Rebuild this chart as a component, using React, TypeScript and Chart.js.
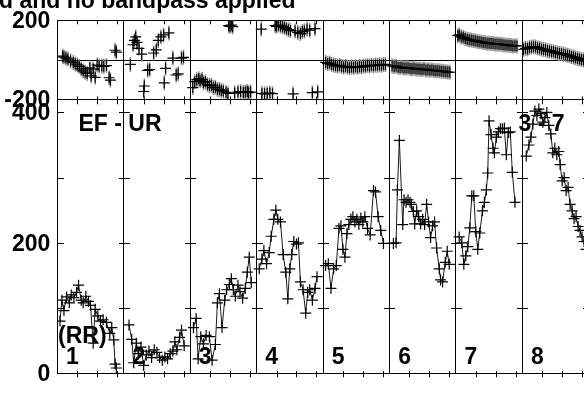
import React, { useEffect, useRef } from 'react';
import { Chart, registerables } from 'chart.js';

Chart.register(...registerables);

// ---- text ----
const TITLE = 'd and no bandpass applied';
const BASELINE_LABEL = 'EF - UR';
const ANTENNA_LABEL = '3 - 7';
const STOKES_LABEL = '(RR)';
const PANEL_LABELS = ['1', '2', '3', '4', '5', '6', '7', '8'];

// ---- axis ticks ----
const PHASE_TICKS = [-200, 0, 200];
const PHASE_TICK_LABELS = ['-200', '', '200'];
const AMP_TICKS = [0, 200, 400];
const AMP_TICK_LABELS = ['0', '200', '400'];
const AMP_MINOR = [100, 200, 300, 400];
const TIME_TICKS = [0.3, 0.6, 0.9];

// ---- amplitude per panel: [time within panel (0..1), amplitude] ----
const amp1 = [[0.04,80],[0.07,112],[0.1,96],[0.14,117],[0.18,108],[0.21,120],[0.25,116],[0.29,124],[0.32,135],[0.36,112],[0.39,108],[0.43,118],[0.47,110],[0.5,104],[0.54,46],[0.57,98],[0.61,88],[0.65,80],[0.69,82],[0.74,78],[0.79,61],[0.82,70],[0.85,51],[0.87,14],[0.89,8]];
const amp2 = [[0.08,74],[0.12,52],[0.15,16],[0.19,46],[0.22,30],[0.26,40],[0.3,12],[0.34,28],[0.38,34],[0.42,24],[0.46,36],[0.5,32],[0.54,24],[0.58,20],[0.62,25],[0.66,22],[0.7,30],[0.74,34],[0.77,48],[0.8,36],[0.84,55],[0.87,66],[0.91,42]];
const amp3 = [[0.05,70],[0.09,84],[0.12,22],[0.16,56],[0.2,45],[0.24,58],[0.29,56],[0.33,20],[0.38,44],[0.41,108],[0.44,122],[0.48,70],[0.52,112],[0.55,128],[0.59,136],[0.62,145],[0.65,128],[0.68,118],[0.72,135],[0.75,125],[0.79,115],[0.83,130],[0.86,155],[0.89,178],[0.92,139]];
const amp4 = [[0.04,160],[0.08,175],[0.11,188],[0.15,168],[0.19,185],[0.22,210],[0.26,236],[0.29,250],[0.32,236],[0.36,232],[0.4,182],[0.44,155],[0.47,114],[0.5,160],[0.53,182],[0.56,202],[0.6,198],[0.63,200],[0.66,140],[0.7,128],[0.74,92],[0.77,124],[0.8,128],[0.84,112],[0.88,130],[0.91,148]];
const amp5 = [[0.04,165],[0.08,168],[0.12,130],[0.16,160],[0.2,165],[0.24,222],[0.27,226],[0.3,190],[0.33,178],[0.36,214],[0.39,228],[0.42,236],[0.45,240],[0.48,232],[0.51,236],[0.54,228],[0.57,238],[0.6,232],[0.63,240],[0.67,222],[0.71,212],[0.76,280],[0.79,278],[0.83,240],[0.87,219],[0.91,199]];
const amp6 = [[0.06,199],[0.1,200],[0.12,281],[0.15,357],[0.2,228],[0.22,266],[0.25,262],[0.28,266],[0.31,262],[0.33,259],[0.36,248],[0.38,229],[0.41,249],[0.44,240],[0.47,229],[0.5,236],[0.53,228],[0.56,259],[0.59,232],[0.62,208],[0.65,226],[0.68,232],[0.71,192],[0.75,160],[0.77,143],[0.8,140],[0.84,170],[0.87,187],[0.9,167]];
const amp7 = [[0.05,209],[0.09,200],[0.12,167],[0.15,180],[0.18,194],[0.21,223],[0.24,272],[0.27,272],[0.3,217],[0.33,190],[0.36,215],[0.4,249],[0.43,262],[0.46,281],[0.48,307],[0.5,387],[0.53,366],[0.56,345],[0.58,338],[0.61,362],[0.64,370],[0.67,375],[0.7,375],[0.73,376],[0.76,335],[0.79,369],[0.82,370],[0.85,308],[0.89,262]];
const amp8 = [[0.06,333],[0.1,350],[0.13,362],[0.16,382],[0.19,402],[0.22,395],[0.25,405],[0.28,398],[0.31,385],[0.34,392],[0.37,400],[0.4,380],[0.43,367],[0.46,338],[0.49,345],[0.52,335],[0.55,340],[0.57,320],[0.6,295],[0.63,300],[0.66,280],[0.69,285],[0.72,259],[0.75,249],[0.78,237],[0.81,240],[0.84,225],[0.87,219],[0.9,209],[0.93,202],[0.96,190]];

// ---- phase per panel: [time within panel (0..1), phase in degrees] ----
const ph1 = [[0.08,20],[0.1,15],[0.13,10],[0.16,5],[0.2,-5],[0.24,-12],[0.27,-20],[0.3,-25],[0.33,-32],[0.36,-45],[0.39,-55],[0.42,-62],[0.45,-68],[0.49,-40],[0.51,-80],[0.54,-46],[0.57,-88],[0.6,-25],[0.63,-30],[0.67,-30],[0.7,-32],[0.74,-28],[0.78,-90],[0.8,-102],[0.87,50],[0.89,40]];
const ph2 = [[0.1,-22],[0.14,78],[0.16,100],[0.18,118],[0.2,90],[0.23,60],[0.27,30],[0.3,-160],[0.31,-132],[0.36,-52],[0.39,-48],[0.45,36],[0.49,52],[0.52,100],[0.56,118],[0.6,128],[0.61,-116],[0.63,-42],[0.68,138],[0.74,10],[0.79,-76],[0.82,-70],[0.87,10],[0.9,14]];
const ph3 = [[0.04,-140],[0.07,-110],[0.1,-100],[0.13,-95],[0.15,-105],[0.18,-98],[0.2,-115],[0.23,-110],[0.26,-125],[0.29,-130],[0.32,-128],[0.35,-140],[0.38,-138],[0.41,-148],[0.44,-150],[0.47,-155],[0.5,-158],[0.54,-165],[0.57,-170],[0.58,175],[0.6,172],[0.62,178],[0.64,170],[0.67,-168],[0.72,-163],[0.76,-160],[0.8,-165],[0.83,-162],[0.86,-160],[0.88,-166],[0.91,-163]];
const ph4 = [[0.07,158],[0.08,-170],[0.12,-172],[0.16,-170],[0.2,-168],[0.24,-171],[0.28,176],[0.3,172],[0.33,178],[0.36,174],[0.39,170],[0.42,166],[0.45,160],[0.48,155],[0.51,150],[0.55,-172],[0.58,148],[0.62,140],[0.66,135],[0.69,145],[0.72,148],[0.76,158],[0.8,152],[0.84,-166],[0.88,160],[0.92,-162]];
const ph5 = [[0.04,-12],[0.07,-18],[0.1,-15],[0.13,-22],[0.16,-25],[0.19,-28],[0.22,-30],[0.25,-27],[0.28,-33],[0.31,-35],[0.34,-32],[0.37,-36],[0.4,-38],[0.43,-35],[0.46,-37],[0.49,-34],[0.52,-36],[0.55,-33],[0.58,-35],[0.61,-30],[0.64,-32],[0.67,-28],[0.7,-30],[0.73,-27],[0.76,-29],[0.79,-25],[0.82,-27],[0.85,-24],[0.88,-26],[0.91,-22],[0.94,-23]];
const ph6 = [[0.04,-30],[0.07,-34],[0.1,-32],[0.13,-36],[0.16,-38],[0.19,-37],[0.22,-40],[0.25,-41],[0.28,-39],[0.31,-43],[0.34,-44],[0.37,-42],[0.4,-46],[0.43,-45],[0.46,-47],[0.49,-48],[0.52,-46],[0.55,-50],[0.58,-49],[0.61,-52],[0.64,-51],[0.67,-53],[0.7,-55],[0.73,-54],[0.76,-56],[0.79,-57],[0.82,-58],[0.85,-60],[0.88,-61],[0.91,-62]];
const ph7 = [[0.03,124],[0.05,128],[0.08,118],[0.11,116],[0.14,110],[0.17,106],[0.2,104],[0.23,102],[0.26,100],[0.29,98],[0.32,96],[0.35,93],[0.38,92],[0.41,90],[0.44,88],[0.47,86],[0.5,86],[0.53,84],[0.56,84],[0.59,82],[0.62,82],[0.65,80],[0.68,80],[0.71,78],[0.74,77],[0.77,76],[0.8,75],[0.83,74],[0.86,72],[0.89,73],[0.92,72]];
const ph8 = [[0.02,55],[0.05,60],[0.08,58],[0.11,64],[0.14,66],[0.17,68],[0.2,66],[0.23,62],[0.26,60],[0.29,56],[0.32,54],[0.35,52],[0.38,48],[0.41,46],[0.44,44],[0.47,42],[0.5,38],[0.53,36],[0.56,34],[0.59,32],[0.62,30],[0.65,27],[0.68,25],[0.71,22],[0.74,18],[0.77,15],[0.8,12],[0.83,8],[0.86,6],[0.89,3],[0.92,0],[0.95,-4],[0.98,-6]];

const AMP_PANELS = [amp1, amp2, amp3, amp4, amp5, amp6, amp7, amp8];
const PHASE_PANELS = [ph1, ph2, ph3, ph4, ph5, ph6, ph7, ph8];

const FAMILY = '"Liberation Sans", Arial, Helvetica, sans-serif';
const FONT_SIZE = 23;
const FONT_STR = `bold ${FONT_SIZE}px ${FAMILY}`;

const decorPlugin = {
  id: 'aipsDecor',
  beforeDatasetsDraw(chart: any) {
    const ctx = chart.ctx;
    const xs = chart.scales.x;
    const ya = chart.scales.yAmp;
    const yp = chart.scales.yPh;
    const n = PANEL_LABELS.length;
    ctx.save();
    ctx.strokeStyle = '#000';
    ctx.lineWidth = 1;
    ctx.beginPath();
    for (let k = 0; k <= n; k++) {
      const X = Math.round(xs.getPixelForValue(k));
      for (const v of AMP_MINOR) {
        const y = Math.round(ya.getPixelForValue(v)) + 0.5;
        let l = X - 5, r = X + 6;
        if (k === 0) { l = X; r = X + 7; }
        if (k === n) { l = X - 6; r = X; }
        ctx.moveTo(l, y);
        ctx.lineTo(r, y);
      }
    }
    for (let p = 0; p < n; p++) {
      for (const f of TIME_TICKS) {
        const X = Math.round(xs.getPixelForValue(p + f)) + 0.5;
        const top = yp.top;
        const mid = yp.bottom;
        const bot = ya.bottom;
        ctx.moveTo(X, top);
        ctx.lineTo(X, top + 3.5);
        ctx.moveTo(X, mid - 3);
        ctx.lineTo(X, mid + 5);
        ctx.moveTo(X, bot - 2);
        ctx.lineTo(X, bot + 4);
      }
    }
    ctx.stroke();

    ctx.fillStyle = '#000';
    ctx.font = FONT_STR;
    ctx.textAlign = 'left';
    ctx.textBaseline = 'alphabetic';
    ctx.fillText(TITLE, -1, 8);
    ctx.fillText(BASELINE_LABEL, 78.5, 131);
    ctx.fillText(ANTENNA_LABEL, 518.5, 131);
    ctx.fillText(STOKES_LABEL, 58, 343);
    PANEL_LABELS.forEach((t, i) => {
      ctx.fillText(t, xs.getPixelForValue(i) + 8.7, 364);
    });
    ctx.restore();
  },
};

export default function App() {
  const ref = useRef<HTMLCanvasElement>(null);

  useEffect(() => {
    const canvas = ref.current;
    if (!canvas) return;

    const ampDatasets = AMP_PANELS.map((pts, i) => ({
      label: 'amp' + (i + 1),
      data: pts.map(([f, v]) => ({ x: i + f, y: v })),
      xAxisID: 'x',
      yAxisID: 'yAmp',
      showLine: true,
      borderColor: '#1a1a1a',
      borderWidth: 1,
      pointStyle: 'cross',
      pointRadius: 5.5,
      pointBorderColor: '#000',
      pointBackgroundColor: '#000',
      pointBorderWidth: 1.2,
      order: 1,
    }));

    const phasePoints = PHASE_PANELS.flatMap((pts, i) =>
      pts.map(([f, v]) => ({ x: i + f, y: v }))
    );

    const chart = new Chart(canvas, {
      type: 'scatter',
      data: {
        datasets: [
          ...ampDatasets,
          {
            label: 'phase',
            data: phasePoints,
            xAxisID: 'x',
            yAxisID: 'yPh',
            showLine: false,
            pointStyle: 'cross',
            pointRadius: 5.5,
            pointBorderColor: '#000',
            pointBackgroundColor: '#000',
            pointBorderWidth: 1.2,
            order: 2,
          },
          {
            label: 'phase error',
            data: phasePoints,
            xAxisID: 'x',
            yAxisID: 'yPh',
            showLine: false,
            pointStyle: 'line',
            rotation: 90,
            pointRadius: 7.5,
            pointBorderColor: '#8c8c8c',
            pointBorderWidth: 1.5,
            order: 3,
          },
        ] as any,
      },
      options: {
        responsive: false,
        animation: false,
        devicePixelRatio: 1,
        events: [],
        layout: { padding: { left: 0, top: 16.7, right: 600 - 588.7, bottom: 394 - 381.5 } },
        plugins: {
          legend: { display: false },
          tooltip: { enabled: false },
          title: { display: false },
        },
        scales: {
          x: {
            type: 'linear',
            position: 'bottom',
            min: 0,
            max: PANEL_LABELS.length,
            afterBuildTicks: (s: any) => {
              s.ticks = PANEL_LABELS.map((_, i) => ({ value: i })).concat([{ value: PANEL_LABELS.length }]);
            },
            afterFit: (s: any) => { s.height = 0; },
            ticks: { display: false },
            grid: { color: '#000', lineWidth: 1, drawTicks: false },
            border: { display: true, color: '#000', width: 1 },
          },
          yPh: {
            type: 'linear',
            position: 'left',
            stack: 'panels',
            stackWeight: 81.3,
            weight: 1,
            min: -200,
            max: 200,
            afterBuildTicks: (s: any) => { s.ticks = PHASE_TICKS.map((v) => ({ value: v })); },
            afterFit: (s: any) => { s.width = 57.3; },
            ticks: {
              font: { family: FAMILY, size: FONT_SIZE, weight: 'bold' },
              color: '#000',
              padding: 7,
              autoSkip: false,
              labelOffset: 1,
              callback: (v: any) => PHASE_TICK_LABELS[PHASE_TICKS.indexOf(Number(v))] ?? '',
            },
            grid: { color: '#000', lineWidth: 1, drawTicks: false },
            border: { display: false },
          },
          yAmp: {
            type: 'linear',
            position: 'left',
            stack: 'panels',
            stackWeight: 283.5,
            weight: 0,
            min: 0,
            max: 420,
            afterBuildTicks: (s: any) => { s.ticks = AMP_TICKS.map((v) => ({ value: v })); },
            afterFit: (s: any) => { s.width = 57.3; },
            ticks: {
              font: { family: FAMILY, size: FONT_SIZE, weight: 'bold' },
              color: '#000',
              padding: 7,
              autoSkip: false,
              labelOffset: 1.5,
              callback: (v: any) => AMP_TICK_LABELS[AMP_TICKS.indexOf(Number(v))] ?? '',
            },
            grid: { display: false, drawTicks: false },
            border: { display: false },
          },
        },
      } as any,
      plugins: [decorPlugin],
    });

    return () => chart.destroy();
  }, []);

  return (
    <div
      style={{
        position: 'fixed',
        left: 0,
        top: 0,
        width: 584,
        height: 394,
        overflow: 'hidden',
        background: '#fff',
      }}
    >
      <canvas ref={ref} width={600} height={394} style={{ display: 'block', width: 600, height: 394 }} />
    </div>
  );
}
